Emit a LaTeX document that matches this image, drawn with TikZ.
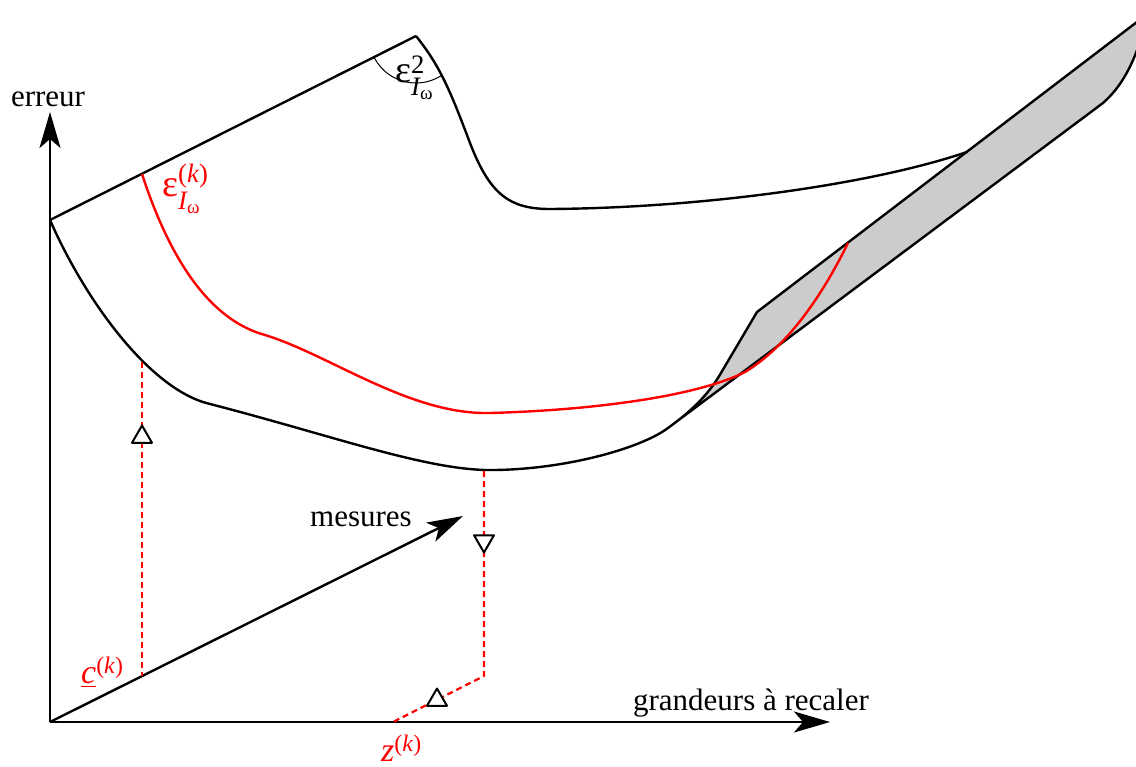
\documentclass[tikz,border=0pt]{standalone}
\usepackage{fontspec}
\setmainfont{Liberation Serif}
\usepackage{amsmath}
\usetikzlibrary{arrows.meta,shapes.geometric}
\newcommand{\vi}[1]{\text{\itshape #1}}
\newcommand{\kpar}{\text{(\textit{k})}}
\begin{document}
\begin{tikzpicture}[x=1pt,y=-1pt,line join=round,
  lbl/.style={font=\fontsize{31}{37}\selectfont,inner sep=0pt},
  mlbl/.style={font=\fontsize{38}{44}\selectfont,inner sep=0pt},
  slbl/.style={font=\fontsize{34}{40}\selectfont,inner sep=0pt},
  axisline/.style={line width=2.4pt,-{Stealth[length=36pt,width=21pt,inset=9pt]}},
  curve/.style={line width=2.4pt},
  redcurve/.style={line width=2.4pt,red},
  reddash/.style={line width=2.2pt,red,dash pattern=on 6pt off 4pt},
  band/.style={line width=2.4pt,fill=black!20},
  tri/.style={regular polygon,regular polygon sides=3,draw=black,fill=white,line width=2pt,minimum size=23pt,inner sep=0pt},
  anglearc/.style={line width=1pt}]
\useasboundingbox (0,0) rectangle (1136,767);
% key points
\coordinate (O) at (50,722);
\coordinate (ytip) at (50,112);
\coordinate (xtip) at (830,722);
\coordinate (mtip) at (463,516);
\coordinate (start) at (50,220);
\coordinate (peak) at (416,36);
\coordinate (cbot) at (142,676);
\coordinate (ctop) at (142,362);
\coordinate (mtop) at (484,471);
\coordinate (mcorner) at (484,676);
\coordinate (zpt) at (393,722);
% grey band
\begin{scope}
\clip (0,0) rectangle (1136,767);
\filldraw[band] (668,428) .. controls (690,412) and (705,398) .. (718,378) -- (757,312) -- (1150,12) -- (1145,25) .. controls (1134,66) and (1120,88) .. (1103,103) -- cycle;
\end{scope}
% axes
\draw[axisline] (O) -- (ytip);
\draw[axisline] (O) -- (xtip);
\draw[axisline] (O) -- (mtip);
% upper surface
\draw[curve] (start) -- (peak);
\draw[curve] (peak) .. controls (440,66) and (450,90) .. (470,143) .. controls (490,195) and (510,209) .. (550,209) .. controls (700,208) and (870,185) .. (967,152);
% lower surface
\draw[curve] (start) .. controls (85,300) and (150,390) .. (210,404) .. controls (330,435) and (420,468) .. (485,470) .. controls (560,471) and (640,449) .. (668,428);
% red curve
\draw[redcurve] (142,174) .. controls (170,260) and (210,320) .. (265,335) .. controls (330,355) and (410,415) .. (490,413) .. controls (600,410) and (700,395) .. (745,372) .. controls (790,345) and (825,290) .. (848,243);
% angle arc
\draw[anglearc] (peak) ++(153.3:47) arc[start angle=153.3,end angle=57,radius=47];
% dashed projections
\draw[reddash] (ctop) -- (cbot);
\draw[reddash] (mtop) -- (mcorner) -- (zpt);
\node[tri] (t1) at (142,437) {};
\node[tri,shape border rotate=180] (t2) at (484,541) {};
\node[tri] (t3) at (437,700) {};
% labels
\node[lbl,anchor=base] (lerr) at (48,107) {erreur};
\node[lbl,anchor=base] (lgr) at (751,710) {grandeurs à recaler};
\node[lbl,anchor=base] (lmes) at (361,526) {mesures};
\node[mlbl,anchor=base west] (leps2) at (395,83) {$\text{ε}^{\text{2}}_{\vi{I}_{\text{ω}}}$};
\node[mlbl,anchor=base west,red] (lepsk) at (162,197) {$\text{ε}^{\kpar}_{\vi{I}_{\text{ω}}}$};
\node[slbl,anchor=base west,red] (lck) at (81,683) {$\underline{\vi{c}}^{\kpar}$};
\node[slbl,anchor=base west,red] (lzk) at (381,761) {$\vi{z}^{\kpar}$};
\end{tikzpicture}
\end{document}
